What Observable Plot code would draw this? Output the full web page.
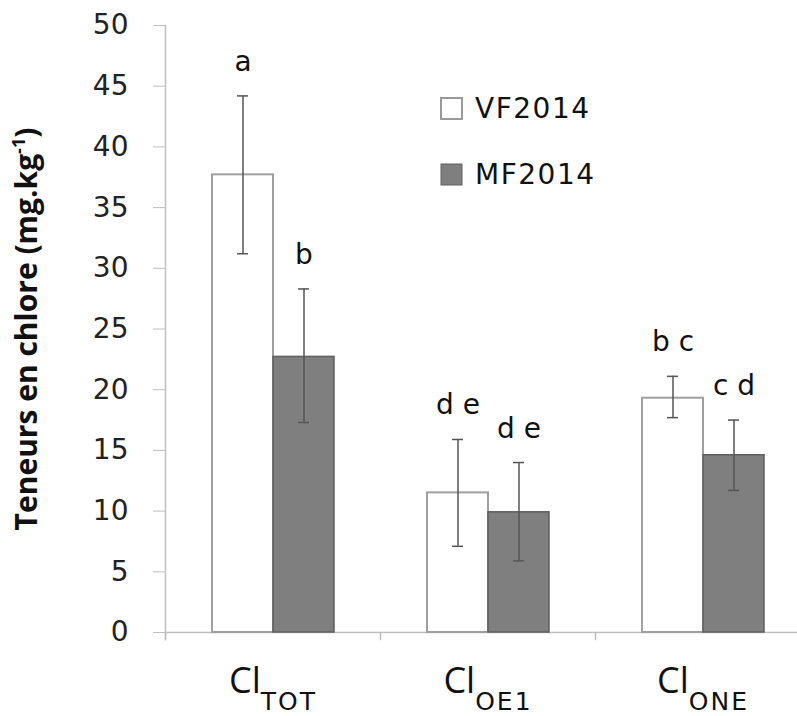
<!DOCTYPE html>
<html><head><meta charset="utf-8">
<script src="https://cdn.jsdelivr.net/npm/d3@7"></script>
<script src="https://cdn.jsdelivr.net/npm/@observablehq/plot@0.6"></script>
<style>
html,body{margin:0;padding:0;background:#fff;}
#wrap{position:relative;width:797px;height:716px;overflow:hidden;background:#fff;}
#legend{position:absolute;left:441px;top:75px;}
#legend, #legend *{font-family:"DejaVu Sans" !important;font-size:28px !important;color:#111 !important;letter-spacing:1.5px;}
#legend .lg-swatch{height:66px;display:flex !important;align-items:center;padding:0 !important;margin:0 !important;}
#legend .lg-swatch svg{margin-right:13px !important;overflow:visible;}
#legend .lg-swatch:nth-of-type(1) svg{stroke:#9a9a9a;stroke-width:2px;}
#legend .lg-swatch:nth-of-type(2) svg{stroke:#606060;stroke-width:1px;}
</style>
</head><body>
<div id="wrap"><div id="legend"></div></div>
<script>
const categories = ["TOT", "OE1", "ONE"];
const series = ["VF2014", "MF2014"];
const vfMean = [37.7, 11.5, 19.3];
const vfLow  = [31.2, 7.1, 17.7];
const vfHigh = [44.2, 15.9, 21.1];
const mfMean = [22.7, 9.9, 14.6];
const mfLow  = [17.3, 5.9, 11.7];
const mfHigh = [28.3, 14.0, 17.5];
const vfLetters = ["a", "d e", "b c"];
const mfLetters = ["b", "d e", "c d"];
const yTicks = [0, 5, 10, 15, 20, 25, 30, 35, 40, 45, 50];
const yTitle = "Teneurs en chlore (mg.kg";
const yTitleSup = "-1";
const xPrefix = "Cl";
const seriesColors = ["white", "#7f7f7f"];

const rows = categories.flatMap((c, i) => [
  {cat: c, series: series[0], mean: vfMean[i], lo: vfLow[i], hi: vfHigh[i], letter: vfLetters[i]},
  {cat: c, series: series[1], mean: mfMean[i], lo: mfLow[i], hi: mfHigh[i], letter: mfLetters[i]}
]);
const vfRows = rows.filter(d => d.series === series[0]);
const mfRows = rows.filter(d => d.series === series[1]);

const grid = "#bfbfbf";
const plot = Plot.plot({
  width: 797, height: 716,
  marginTop: 25, marginBottom: 84, marginLeft: 164, marginRight: 0,
  style: {fontFamily: "DejaVu Sans", background: "white", color: "#111"},
  fx: {domain: categories, range: [164, 811], padding: 0},
  x: {domain: series, paddingInner: 0, paddingOuter: 0.75, axis: null},
  y: {domain: [0, 50]},
  marks: [
    Plot.ruleY([0], {stroke: grid, strokeWidth: 1.5}),
    Plot.frame({anchor: "left", stroke: grid, strokeWidth: 1.5, insetTop: 607, insetBottom: -7}),
    Plot.frame({anchor: "left", stroke: grid, strokeWidth: 1.5, insetBottom: -7, facetAnchor: "left"}),
    Plot.barY(vfRows, {fx: "cat", x: "series", y: "mean", fill: seriesColors[0], stroke: "#a0a0a0", strokeWidth: 2}),
    Plot.barY(mfRows, {fx: "cat", x: "series", y: "mean", fill: seriesColors[1], stroke: "#5f5f5f", strokeWidth: 1.5}),
    Plot.ruleX(rows, {fx: "cat", x: "series", y1: "lo", y2: "hi", stroke: "#555", strokeWidth: 1.5}),
    Plot.tickY(rows, {fx: "cat", x: "series", y: "lo", stroke: "#555", strokeWidth: 1.5, insetLeft: 25, insetRight: 25}),
    Plot.tickY(rows, {fx: "cat", x: "series", y: "hi", stroke: "#555", strokeWidth: 1.5, insetLeft: 25, insetRight: 25}),
    Plot.text(rows, {fx: "cat", x: "series", y: "hi", text: "letter", dy: -34, fontSize: 28, fill: "#111"}),
    Plot.axisY({ticks: yTicks, tickSize: 12, tickPadding: 25, fontSize: 28, stroke: grid, fill: "#222",
                label: yTitle, labelAnchor: "center", labelOffset: 150, labelArrow: "none"}),
    Plot.axisFx({anchor: "bottom", tickSize: 0, tickPadding: 35, fontSize: 36, fontFamily: "Open Sans", fill: "#111", label: null})
  ]
});

// Subscripts on category labels
d3.select(plot).selectAll('g[aria-label="fx-axis tick label"] text').each(function() {
  const t = d3.select(this);
  const sub = t.text();
  t.text(null);
  t.append("tspan").text(xPrefix);
  t.append("tspan").attr("font-family", "DejaVu Sans").attr("font-size", 25).attr("dy", 17).attr("letter-spacing", 2).text(sub);
});
// Superscript on y title
d3.select(plot).selectAll('g[aria-label="y-axis label"] text').each(function() {
  const t = d3.select(this);
  t.text(null).attr("font-family", "Open Sans").attr("font-size", 30).attr("font-weight", 700).attr("fill", "#111");
  t.append("tspan").text(yTitle);
  t.append("tspan").attr("font-size", 18).attr("dy", -12).text(yTitleSup);
  t.append("tspan").attr("dy", 12).text(")");
});

document.getElementById("wrap").prepend(plot);
plot.style.position = "absolute"; plot.style.left = "0"; plot.style.top = "0";

const legend = Plot.legend({
  color: {type: "ordinal", domain: series, range: seriesColors},
  legend: "swatches", columns: 1, swatchSize: 21, className: "lg"
});
document.getElementById("legend").appendChild(legend);
</script>
</body></html>
